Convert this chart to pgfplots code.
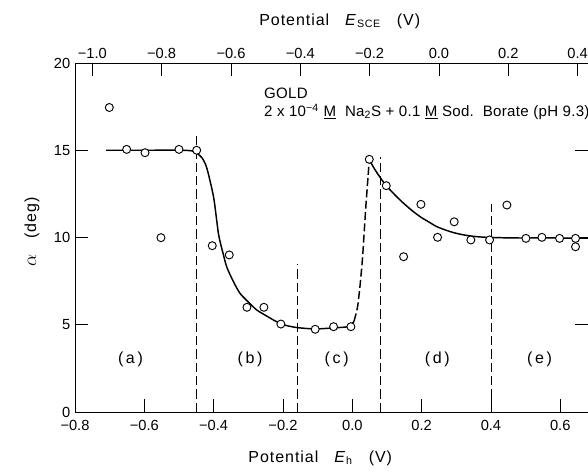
\documentclass[border=0pt]{standalone}
\usepackage{fontspec}
\setmainfont{Liberation Sans}
\newfontfamily\spaced[LetterSpace=6]{Liberation Sans}
\newfontfamily\annot[LetterSpace=2]{Liberation Sans}
\usepackage{pgfplots}
\pgfplotsset{compat=1.18}
\begin{document}
\begin{tikzpicture}
\useasboundingbox (-56.25pt,-45pt) rectangle (384.75pt,309pt);
\begin{axis}[
  at={(0,0)}, anchor=south west, scale only axis,
  width=384.75pt, height=261.75pt,
  xmin=-0.8, xmax=0.68, ymin=0, ymax=20,
  xtick={-0.8,-0.6,-0.4,-0.2,0,0.2,0.4,0.6},
  xticklabels={−0.8,−0.6,−0.4,−0.2,0.0,0.2,0.4,0.6},
  ytick={0,5,10,15,20}, yticklabels={0,5,10,15,20},
  xtick pos=bottom, ytick pos=both,
  tick align=inside, major tick length=10pt,
  tick style={black, line width=0.6pt},
  axis line style={line width=0.6pt},
  tick label style={font=\fontsize{11}{13}\selectfont},
  xticklabel style={yshift=-3pt},
  xlabel={\spaced Potential\quad \textit{E}\textsubscript{h}\quad(V)},
  ylabel={{\fontsize{15}{17}\selectfont$\alpha$}\quad\spaced(deg)},
  label style={font=\fontsize{12}{14}\selectfont},
  xlabel style={at={(axis description cs:0.478,-0.132)}, anchor=center},
  ylabel style={at={(axis description cs:-0.084,0.516)}, anchor=center},
  clip=false,
]
% region boundaries
\addplot[black, line width=0.6pt, dash pattern=on 7pt off 3pt] coordinates {(-0.45,0) (-0.45,16)};
\addplot[black, line width=0.6pt, dash pattern=on 7pt off 3pt] coordinates {(-0.157,0) (-0.157,8.5)};
\addplot[black, line width=0.6pt, dash pattern=on 7pt off 3pt] coordinates {(0.08,0) (0.08,14.6)};
\addplot[black, line width=0.6pt, dash pattern=on 7pt off 3pt] coordinates {(0.40,0) (0.40,11.9)};
% fitted curves
\addplot[black, line width=1.1pt, smooth, tension=0.4] coordinates {
(-0.71,15.0) (-0.60,15.0) (-0.50,15.0) (-0.46,14.95) (-0.435,14.6) (-0.42,14.0)
(-0.40,12.3) (-0.386,10.2) (-0.373,9.1) (-0.362,8.3) (-0.343,7.47) (-0.324,6.8)
(-0.30,6.3) (-0.276,5.85) (-0.247,5.5) (-0.218,5.17) (-0.189,4.95) (-0.156,4.83)
(-0.107,4.76) (-0.054,4.82) (-0.01,4.9) (0.005,5.2)};
\addplot[black, line width=1.1pt, dash pattern=on 6pt off 2.5pt, smooth, tension=0.4] coordinates {
(0.005,5.2) (0.015,6.0) (0.022,7.18) (0.029,8.7) (0.034,10.2) (0.039,11.76) (0.044,13.1) (0.049,14.45)};
\addplot[black, line width=1.1pt, smooth, tension=0.5] coordinates {
(0.049,14.45) (0.065,13.9) (0.080,13.45) (0.098,12.97) (0.125,12.4) (0.148,11.96)
(0.172,11.55) (0.196,11.19) (0.22,10.9) (0.244,10.62) (0.27,10.42) (0.292,10.28)
(0.316,10.17) (0.34,10.09) (0.37,10.03) (0.40,10.0) (0.45,9.98) (0.50,9.97)
(0.55,9.98) (0.60,9.97) (0.68,9.97)};
% measured points
\addplot[only marks, mark=*, mark size=3pt, mark options={fill=white, draw=black, line width=0.7pt}] coordinates {
(-0.701,17.45) (-0.651,15.05) (-0.598,14.86) (-0.552,9.99) (-0.500,15.05) (-0.449,15.0)
(-0.404,9.53) (-0.355,9.0) (-0.304,6.0) (-0.255,6.0) (-0.206,5.04)
(-0.107,4.74) (-0.054,4.89) (-0.004,4.89)
(0.049,14.48) (0.098,12.97) (0.148,8.9) (0.198,11.9) (0.246,10.01) (0.294,10.9)
(0.342,9.86) (0.396,9.86) (0.446,11.86) (0.501,9.95) (0.547,10.01) (0.598,9.95)
(0.644,9.95) (0.644,9.47)};
% region labels
\node[font=\fontsize{12}{14}\selectfont] at (axis cs:-0.64,3.0) {(\,a\,)};
\node[font=\fontsize{12}{14}\selectfont] at (axis cs:-0.295,3.0) {(\,b\,)};
\node[font=\fontsize{12}{14}\selectfont] at (axis cs:-0.045,3.0) {(\,c\,)};
\node[font=\fontsize{12}{14}\selectfont] at (axis cs:0.245,3.0) {(\,d\,)};
\node[font=\fontsize{12}{14}\selectfont] at (axis cs:0.54,3.0) {(\,e\,)};
% annotation
\node[anchor=west, inner sep=0pt, font=\fontsize{11.3}{13}\annot] at (axis cs:-0.255,18.25) {GOLD};
\node[anchor=west, inner sep=0pt, font=\fontsize{11.3}{13}\annot] at (axis cs:-0.255,17.2)
  {2 x 10\textsuperscript{−4} \underline{M}\ \ Na\textsubscript{2}S + 0.1 \underline{M}\ Sod.\ \ Borate (pH 9.3)};
\end{axis}
\begin{axis}[
  at={(0,0)}, anchor=south west, scale only axis,
  width=384.75pt, height=261.75pt,
  xmin=-1.05, xmax=0.43, ymin=0, ymax=20,
  axis x line*=top, axis y line=none,
  xtick={-1.0,-0.8,-0.6,-0.4,-0.2,0,0.2,0.4},
  xticklabels={−1.0,−0.8,−0.6,−0.4,−0.2,0.0,0.2,0.4},
  tick align=inside, major tick length=10pt,
  tick style={black, line width=0.6pt},
  axis line style={line width=0.6pt},
  tick label style={font=\fontsize{11}{13}\selectfont},
  xlabel={\spaced Potential\quad \textit{E}\textsubscript{SCE}\quad(V)},
  label style={font=\fontsize{12}{14}\selectfont},
  xlabel style={at={(axis description cs:0.516,1.12)}, anchor=center},
]
\end{axis}
\end{tikzpicture}
\end{document}
